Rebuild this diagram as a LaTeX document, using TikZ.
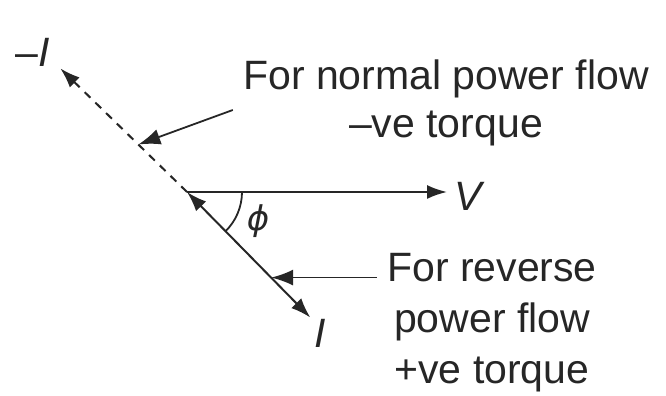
\documentclass[tikz,border=0pt]{standalone}
\usepackage{fontspec}
\setmainfont{Liberation Sans}
\newfontfamily\greekfont{DejaVu Sans}
\usetikzlibrary{arrows.meta,positioning,calc}

\begin{document}
\begin{tikzpicture}[
  x=0.5pt,y=0.5pt,color=black!85,
  phasor/.style={line width=1pt},
  pointer/.style={-{Latex[length=11pt,width=8pt]},line width=0.9pt},
  note/.style={align=center,inner sep=5pt,font=\fontsize{20.5}{24}\selectfont},
  lbl/.style={inner sep=0pt,font=\fontsize{20.5}{22}\selectfont\itshape}
]
\useasboundingbox (0,0) rectangle (666,396);
\coordinate (o) at (187,204);
\coordinate (v) at (447,204);
\coordinate (i) at ($(o)+(-45.5:176)$);
\coordinate (mi) at ($(o)+(135.7:177)$);
\coordinate (q1) at ($(o)+(135.7:68)$);
\coordinate (q2) at ($(o)+(-45.5:120)$);
\draw[phasor,-{Latex[length=10pt,width=7pt]}] (o)--(v);
\draw[phasor,{Latex[length=10pt,width=7pt]}-{Latex[length=10pt,width=7pt]}] (o)--(i);
\draw[phasor,dash pattern=on 4pt off 3.5pt,-{Latex[length=10pt,width=7pt]}] (o)--(mi);
\draw[line width=0.9pt] ($(o)+(0:55)$) arc[start angle=0,end angle=-45.5,radius=55];
\node[lbl] (vlbl) at (468,200) {V};
\node[lbl] (ilbl) at (320,63) {I};
\node[lbl] (milbl) at (33,344) {\textup{–}I};
\node[inner sep=0pt,font=\fontsize{17}{20}\selectfont\greekfont\itshape] (phi) at (258,175) {ϕ};
\node[note] (normal) at (446,293) {For normal power flow\\–ve torque};
\node[note,font=\fontsize{20.5}{25.5}\selectfont] (rev) at (492,73) {For reverse\\power flow\\+ve torque};
\draw[pointer] ($(normal.west)+(0,-7)$)--(q1);
\draw[pointer] (rev.west |- q2)--(q2);
\end{tikzpicture}
\end{document}
